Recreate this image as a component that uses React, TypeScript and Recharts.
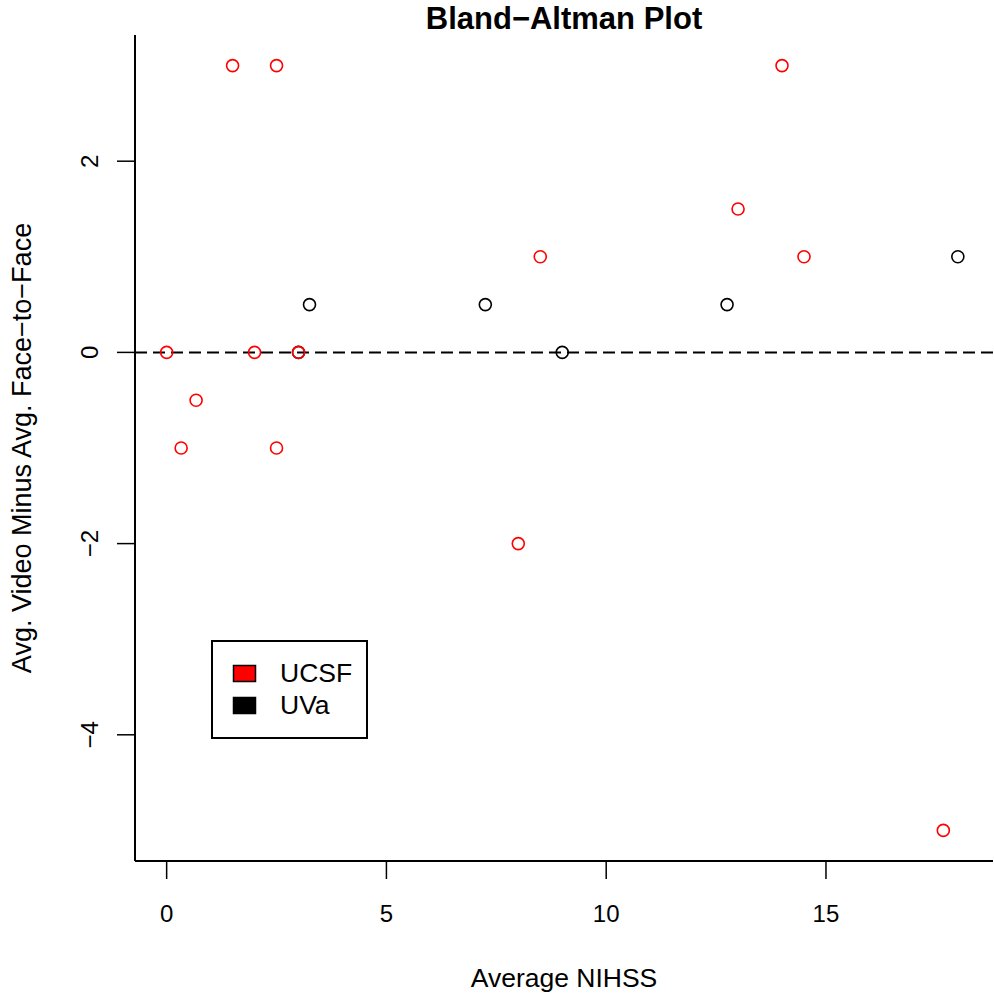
import React from "react";
import {
  ScatterChart,
  Scatter,
  XAxis,
  YAxis,
  ReferenceLine,
  Legend,
  Customized,
} from "recharts";

const ucsfX = [0, 0.33, 0.67, 1.5, 2, 2.5, 2.5, 3, 8, 8.5, 13, 14, 14.5, 17.67];
const ucsfY = [0, -1, -0.5, 3, 0, 3, -1, 0, -2, 1, 1.5, 3, 1, -5];
const uvaX = [3, 3.25, 7.25, 9, 12.75, 18];
const uvaY = [0, 0.5, 0.5, 0, 0.5, 1];

const xTicks = [0, 5, 10, 15];
const yTicks = [-4, -2, 0, 2];

const seriesNames = ["UCSF", "UVa"];
const seriesColors = ["#ff0000", "#000000"];

const titleText = "Bland\u2212Altman Plot";
const xLabelText = "Average NIHSS";
const yLabelText = "Avg. Video Minus Avg. Face\u2212to\u2212Face";

const ucsfData = ucsfX.map((x, i) => ({ x, y: ucsfY[i] }));
const uvaData = uvaX.map((x, i) => ({ x, y: uvaY[i] }));

const FONT = "'Liberation Sans', Arial, Helvetica, sans-serif";

const W = 994;
const H = 995;
const PLOT_LEFT = 135;
const PLOT_TOP = 35;
const PLOT_BOTTOM = 861;
const PLOT_RIGHT = 993;

const fmt = (v: number) => (v < 0 ? "\u2212" + Math.abs(v) : String(v));

const makeShape = (color: string) => (props: any) => (
  <circle
    cx={props.cx}
    cy={props.cy}
    r={6}
    fill="none"
    stroke={color}
    strokeWidth={1.6}
  />
);

const XTick = (props: any) => {
  const { x, y, payload } = props;
  return (
    <text
      x={x}
      y={y + 43}
      textAnchor="middle"
      fontFamily={FONT}
      fontSize={24}
      fill="#000"
    >
      {fmt(payload.value)}
    </text>
  );
};

const YTick = (props: any) => {
  const { x, y, payload } = props;
  const bx = x - 19;
  return (
    <text
      x={bx}
      y={y}
      transform={`rotate(-90, ${bx}, ${y})`}
      textAnchor="middle"
      fontFamily={FONT}
      fontSize={24}
      fill="#000"
    >
      {fmt(payload.value)}
    </text>
  );
};

const Texts = () => {
  const cx = (PLOT_LEFT + PLOT_RIGHT) / 2;
  const cy = (PLOT_TOP + PLOT_BOTTOM) / 2;
  return (
    <g>
      <text
        x={cx}
        y={29}
        textAnchor="middle"
        fontFamily={FONT}
        fontWeight="bold"
        fontSize={31}
        fill="#000"
      >
        {titleText}
      </text>
      <text
        x={cx}
        y={987}
        textAnchor="middle"
        fontFamily={FONT}
        fontSize={26.5}
        fill="#000"
      >
        {xLabelText}
      </text>
      <text
        x={31}
        y={cy}
        transform={`rotate(-90, 31, ${cy})`}
        textAnchor="middle"
        fontFamily={FONT}
        fontSize={27}
        fill="#000"
      >
        {yLabelText}
      </text>
    </g>
  );
};

const LegendBox = (props: any) => {
  const payload = props.payload || [];
  return (
    <svg width={157} height={99} style={{ display: "block" }}>
      <rect x={1} y={1} width={155} height={97} fill="#fff" stroke="#000" strokeWidth={2} />
      {payload.map((p: any, i: number) => (
        <g key={i}>
          <rect
            x={22.5}
            y={25.5 + i * 32}
            width={22}
            height={16}
            fill={p.color}
            stroke="#000"
            strokeWidth={1.5}
          />
          <text
            x={69}
            y={42 + i * 32}
            fontFamily={FONT}
            fontSize={26.5}
            fill="#000"
          >
            {p.value}
          </text>
        </g>
      ))}
    </svg>
  );
};

export default function App() {
  return (
    <div style={{ position: "absolute", left: 0, top: 0, width: W, height: H, background: "#fff" }}>
      <ScatterChart
        width={W}
        height={H}
        margin={{ top: PLOT_TOP, right: W - PLOT_RIGHT, bottom: 0, left: 0 }}
      >
        <XAxis
          type="number"
          dataKey="x"
          domain={[-0.72, 18.8]}
          ticks={xTicks}
          allowDataOverflow
          height={H - PLOT_BOTTOM}
          tickSize={18}
          tickMargin={0}
          tick={<XTick />}
          axisLine={{ stroke: "#000", strokeWidth: 2 }}
          tickLine={{ stroke: "#000", strokeWidth: 1.5 }}
          interval={0}
        />
        <YAxis
          type="number"
          dataKey="y"
          domain={[-5.32, 3.32]}
          ticks={yTicks}
          allowDataOverflow
          width={PLOT_LEFT}
          tickSize={18}
          tickMargin={0}
          tick={<YTick />}
          axisLine={{ stroke: "#000", strokeWidth: 2 }}
          tickLine={{ stroke: "#000", strokeWidth: 1.5 }}
          interval={0}
        />
        <ReferenceLine y={0} stroke="#000" strokeWidth={2} strokeDasharray="12 6" />
        <Scatter
          name={seriesNames[1]}
          data={uvaData}
          fill={seriesColors[1]}
          shape={makeShape(seriesColors[1])}
          isAnimationActive={false}
          legendType="square"
        />
        <Scatter
          name={seriesNames[0]}
          data={ucsfData}
          fill={seriesColors[0]}
          shape={makeShape(seriesColors[0])}
          isAnimationActive={false}
          legendType="square"
        />
        <Legend
          layout="vertical"
          align="center"
          verticalAlign="middle"
          itemSorter={(item: any) => (item.value === seriesNames[0] ? 0 : 1)}
          content={<LegendBox />}
          wrapperStyle={{ left: 211, top: 640, width: 157, height: 99 }}
        />
        <Customized component={Texts} />
      </ScatterChart>
    </div>
  );
}
